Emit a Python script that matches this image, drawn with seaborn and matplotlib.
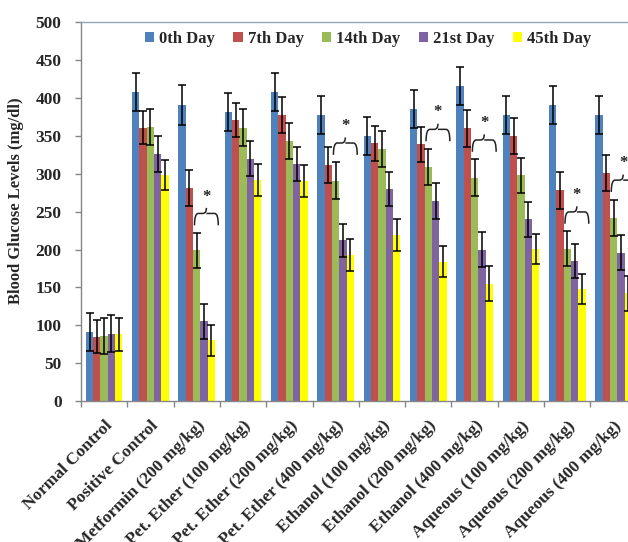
import numpy as np
import pandas as pd
import matplotlib
matplotlib.use("Agg")
import matplotlib.pyplot as plt
import matplotlib.path as mpath
import matplotlib.patches as mpatches
import seaborn as sns

# ---------------- data ----------------
groups = ["Normal Control", "Positive Control", "Metformin (200 mg/kg)",
          "Pet. Ether (100 mg/kg)", "Pet. Ether (200 mg/kg)", "Pet. Ether (400 mg/kg)",
          "Ethanol (100 mg/kg)", "Ethanol (200 mg/kg)", "Ethanol (400 mg/kg)",
          "Aqueous (100 mg/kg)", "Aqueous (200 mg/kg)", "Aqueous (400 mg/kg)"]
days = ["0th Day", "7th Day", "14th Day", "21st Day", "45th Day"]

day0 = [91, 408, 391, 381, 408, 378, 350, 385, 416, 378, 391, 378]
day7 = [85, 361, 281, 371, 378, 312, 340, 339, 360, 350, 278, 301]
day14 = [86, 362, 199, 361, 343, 291, 333, 309, 295, 298, 201, 242]
day21 = [89, 326, 105, 320, 313, 212, 280, 264, 200, 240, 185, 196]
day45 = [88, 298, 80, 292, 291, 193, 219, 184, 155, 201, 148, 142]

err0 = [25, 25, 26, 25, 25, 25, 25, 25, 25, 25, 25, 25]
err7 = [22, 22, 24, 23, 24, 24, 23, 23, 24, 24, 24, 24]
err14 = [24, 24, 23, 24, 24, 24, 24, 24, 24, 23, 23, 24]
err21 = [24, 24, 23, 23, 23, 22, 22, 24, 23, 23, 22, 23]
err45 = [22, 20, 20, 21, 21, 21, 21, 20, 23, 20, 20, 23]

# groups marked significant (brace + asterisk)
significant = ["Metformin (200 mg/kg)", "Pet. Ether (400 mg/kg)", "Ethanol (200 mg/kg)",
               "Ethanol (400 mg/kg)", "Aqueous (200 mg/kg)", "Aqueous (400 mg/kg)"]

y_ticks = list(range(0, 501, 50))

colors = ["#4F81BD", "#C0504D", "#9BBB59", "#8064A2", "#FFFF00"]

values = [day0, day7, day14, day21, day45]
errors = [err0, err7, err14, err21, err45]

df = pd.DataFrame({
    "group": np.repeat([groups], len(days), axis=0).ravel(),
    "day": np.repeat(days, len(groups)),
    "value": np.concatenate(values),
})

# ---------------- plot ----------------
sns.set_theme(style="white")
plt.rcParams["font.family"] = ["Liberation Serif", "DejaVu Serif"]
plt.rcParams["font.weight"] = "bold"

fig = plt.figure(figsize=(6.28, 5.42), dpi=100)
ax = fig.add_axes([81 / 628, 141 / 542, 555.7 / 628, 378.7 / 542])

sns.barplot(data=df, x="group", y="value", hue="day", order=groups, hue_order=days,
            palette=colors, saturation=1, width=0.79, errorbar=None, linewidth=0, ax=ax)

# error bars placed on the bars seaborn drew
for cont, err in zip(ax.containers, errors):
    xs = [p.get_x() + p.get_width() / 2 for p in cont.patches]
    ys = [p.get_height() for p in cont.patches]
    ax.errorbar(xs, ys, yerr=err, fmt="none", ecolor="black", elinewidth=1.1,
                capsize=2.6, capthick=1.1, zorder=5)

# braces with asterisks
def brace(ax, x0, x1, y, h):
    xm = (x0 + x1) / 2
    q = 0.08
    ym = y + h * 0.68
    verts = [(x0, y), (x0, ym), (x0 + q, ym),
             (xm - q, ym),
             (xm, ym), (xm, y + h),
             (xm, ym), (xm + q, ym),
             (x1 - q, ym),
             (x1, ym), (x1, y)]
    codes = [mpath.Path.MOVETO, mpath.Path.CURVE3, mpath.Path.CURVE3,
             mpath.Path.LINETO,
             mpath.Path.CURVE3, mpath.Path.CURVE3,
             mpath.Path.MOVETO, mpath.Path.CURVE3,
             mpath.Path.LINETO,
             mpath.Path.CURVE3, mpath.Path.CURVE3]
    ax.add_patch(mpatches.PathPatch(mpath.Path(verts, codes), fill=False,
                                    edgecolor="#222222", lw=1.1, zorder=6,
                                    clip_on=False))

green_bars = ax.containers[2].patches
yellow_bars = ax.containers[4].patches
for name in significant:
    i = groups.index(name)
    g = green_bars[i]
    yb = yellow_bars[i]
    x0 = g.get_x() + 0.03
    x1 = yb.get_x() + yb.get_width() + 0.07
    y0 = day14[i] + err14[i] + 10
    brace(ax, x0, x1, y0, 23)
    ax.text((x0 + x1) / 2, y0 + 38, "*", ha="center", va="center",
            fontsize=12, fontweight="bold", color="#222222", clip_on=False)

# axes styling
ax.set_xlim(-0.5, len(groups) - 0.5)
ax.set_ylim(0, 500)
ax.set_yticks(y_ticks)
ax.set_yticklabels([str(t) for t in y_ticks], fontsize=12.5, fontweight="bold")
ax.tick_params(axis="y", which="major", direction="out", length=4, width=1,
               color="#868686", pad=10, left=True)

ax.set_xticks(range(len(groups)))
ax.set_xticks(np.arange(-0.5, len(groups), 1.0), minor=True)
ax.tick_params(axis="x", which="major", length=0, pad=12)
ax.tick_params(axis="x", which="minor", direction="out", length=4, width=1,
               color="#868686", bottom=True)
ax.set_xticklabels(groups, rotation=45, ha="right", va="top",
                   rotation_mode="anchor", fontsize=12.5, fontweight="bold")

ax.set_xlabel("")
ax.set_ylabel("Blood Glucose Levels (mg/dl)", fontsize=12, fontweight="bold")
ax.yaxis.set_label_coords(-0.103, 0.53)

for s in ["left", "bottom"]:
    ax.spines[s].set_color("#868686")
    ax.spines[s].set_linewidth(1)
ax.spines["top"].set_color("#8FA8B8")
ax.spines["top"].set_linewidth(1)
ax.spines["right"].set_visible(False)

sns.move_legend(ax, "upper center", bbox_to_anchor=(368 / 628, (542 - 19) / 542),
                bbox_transform=fig.transFigure, ncol=5, frameon=False, title=None,
                handlelength=0.55, handleheight=0.55, handletextpad=0.3,
                columnspacing=1.1, borderpad=0.2, prop={"size": 12, "weight": "bold"})

fig.savefig("out.png", dpi=100)
